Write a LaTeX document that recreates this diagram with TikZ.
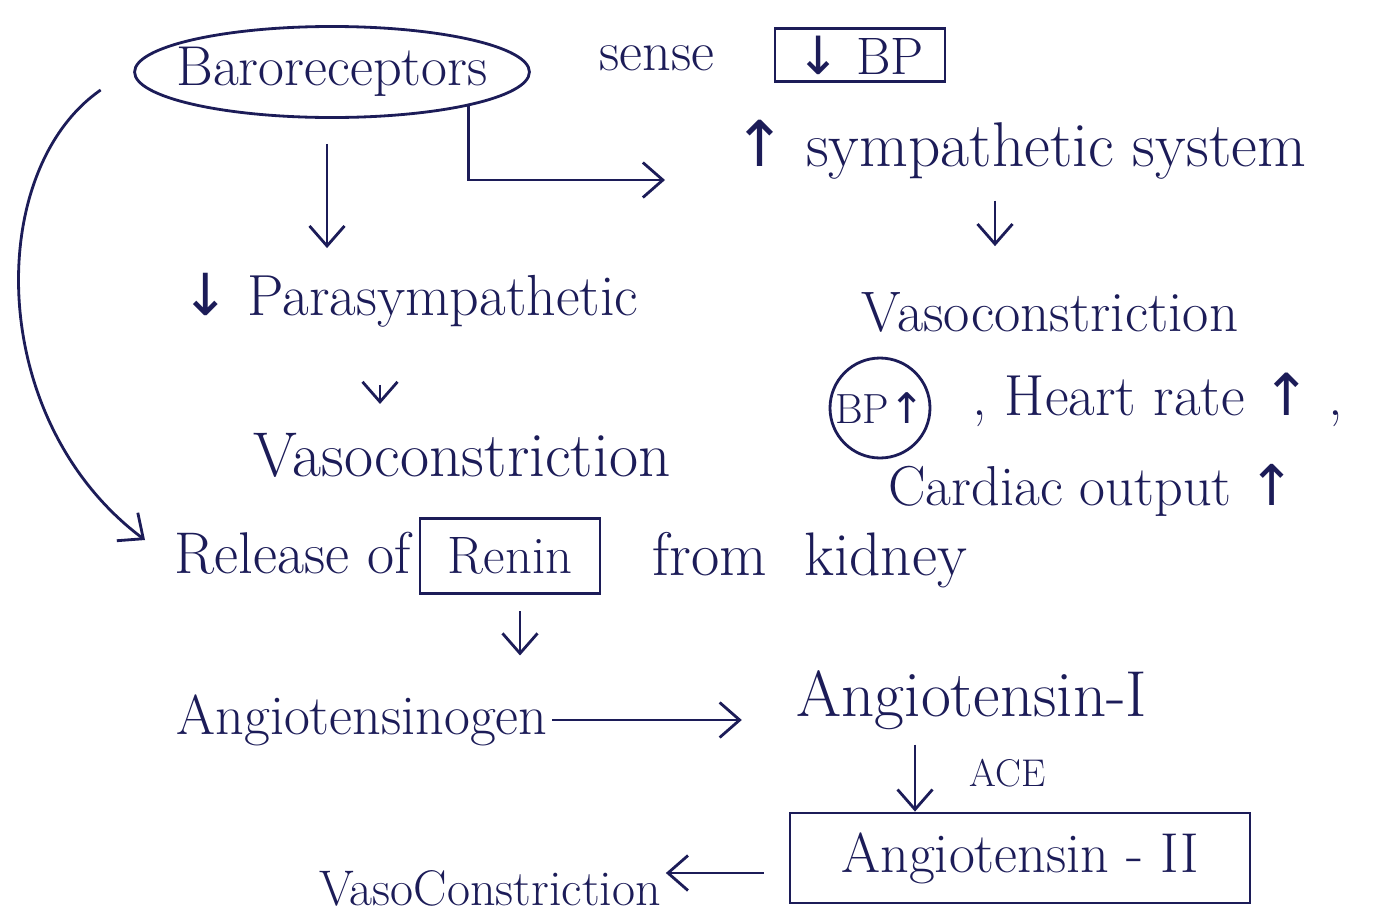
\documentclass[tikz,border=0pt]{standalone}
\usepackage{fontspec}
\newfontfamily\symfont{DejaVu Sans}
\newcommand{\dn}{{\symfont ↓}}
\newcommand{\up}{{\symfont ↑}}
\usetikzlibrary{shapes.geometric,arrows.meta,positioning}
\definecolor{ink}{RGB}{28,28,88}
\begin{document}
\begin{tikzpicture}[x=0.02cm,y=-0.02cm,line width=1.6pt,color=ink,
    every node/.style={inner sep=2pt},
    fs/.style={font=\fontsize{#1}{#1}\selectfont},
    arr/.style={-{Straight Barb[length=4mm,width=7mm]}}]
\useasboundingbox (0,0) rectangle (1377,920);

\node[ellipse,draw,fs=32,inner xsep=-0.32cm,inner ysep=0.15cm] (baro) at (332,72) {Baroreceptors};
\node[fs=32] (sense) at (657,58) {sense};
\node[draw,fs=30,minimum width=3.4cm,minimum height=1.05cm] (lowbp) at (860,55) {\dn\ BP};
\node[fs=36] (symp) at (1020,150) {\up\ sympathetic system};
\coordinate (sympin) at (665,180);
\node[fs=33] (para) at (410,300) {\dn\ Parasympathetic};
\node[fs=36] (vasoA) at (462,455) {Vasoconstriction};
\node[fs=32.5] (vasoB) at (1050,312) {Vasoconstriction};
\node[circle,draw,fs=24,minimum size=2cm,inner sep=0pt] (bpup) at (880,408) {BP\up};
\node[fs=33,anchor=west] (heart) at (968,400) {,\ Heart rate \up\ ,};
\node[fs=32] (cardiac) at (1092,490) {Cardiac output \up};

\node[fs=33.5,anchor=west] (release) at (170,553) {Release of};
\node[draw,fs=30,minimum width=3.6cm,minimum height=1.5cm] (renin) at (510,556) {Renin};
\node[fs=35,anchor=west] (kidney) at (648,560) {from\hspace{0.6em}kidney};
\node[fs=32] (angio0) at (362,720) {Angiotensinogen};
\node[fs=37] (angI) at (972,700) {Angiotensin-I};
\node[draw,fs=32,minimum width=9.2cm,minimum height=1.8cm] (angII) at (1020,858) {Angiotensin - II};
\node[fs=28.5] (vasoC) at (490,888) {VasoConstriction};

\draw[arr] (baro.-14) |- (sympin);
\draw[arr,shorten <=0.5cm,shorten >=0.4cm] ([xshift=-0.1cm]baro.south) -- ([xshift=-0.1cm]baro.south |- para.north);
\draw[arr,shorten <=1.06cm,shorten >=0.48cm] ([xshift=-0.6cm]para.south) -- ([xshift=-0.6cm]para.south |- vasoA.north);
\draw[arr,shorten <=0.32cm,shorten >=0.82cm] ([xshift=-0.5cm]symp.south) -- ([xshift=-0.5cm]symp.south |- vasoB.north);
\draw[arr] ([xshift=-0.65cm,yshift=-0.36cm]baro.west) .. controls (-15,170) and (-15,420) .. ([xshift=-0.5cm,yshift=0.26cm]release.west);
\draw[arr,shorten <=0.33cm,shorten >=0.68cm] ([xshift=0.2cm]renin.south) -- ([xshift=0.2cm]renin.south |- angio0.north);
\draw[arr,shorten >=1cm] (angio0.east) -- (angio0.east -| angI.west);
\draw[arr,shorten <=0.2cm] ([xshift=-1.14cm]angI.south) -- ([xshift=-1.14cm]angI.south |- angII.north) node[midway,right=1cm,fs=22] (ace) {ACE};
\draw[arr,shorten <=0.5cm] ([yshift=-0.3cm]angII.west) -- ([yshift=-0.3cm]angII.west -| vasoC.east);
\end{tikzpicture}
\end{document}
